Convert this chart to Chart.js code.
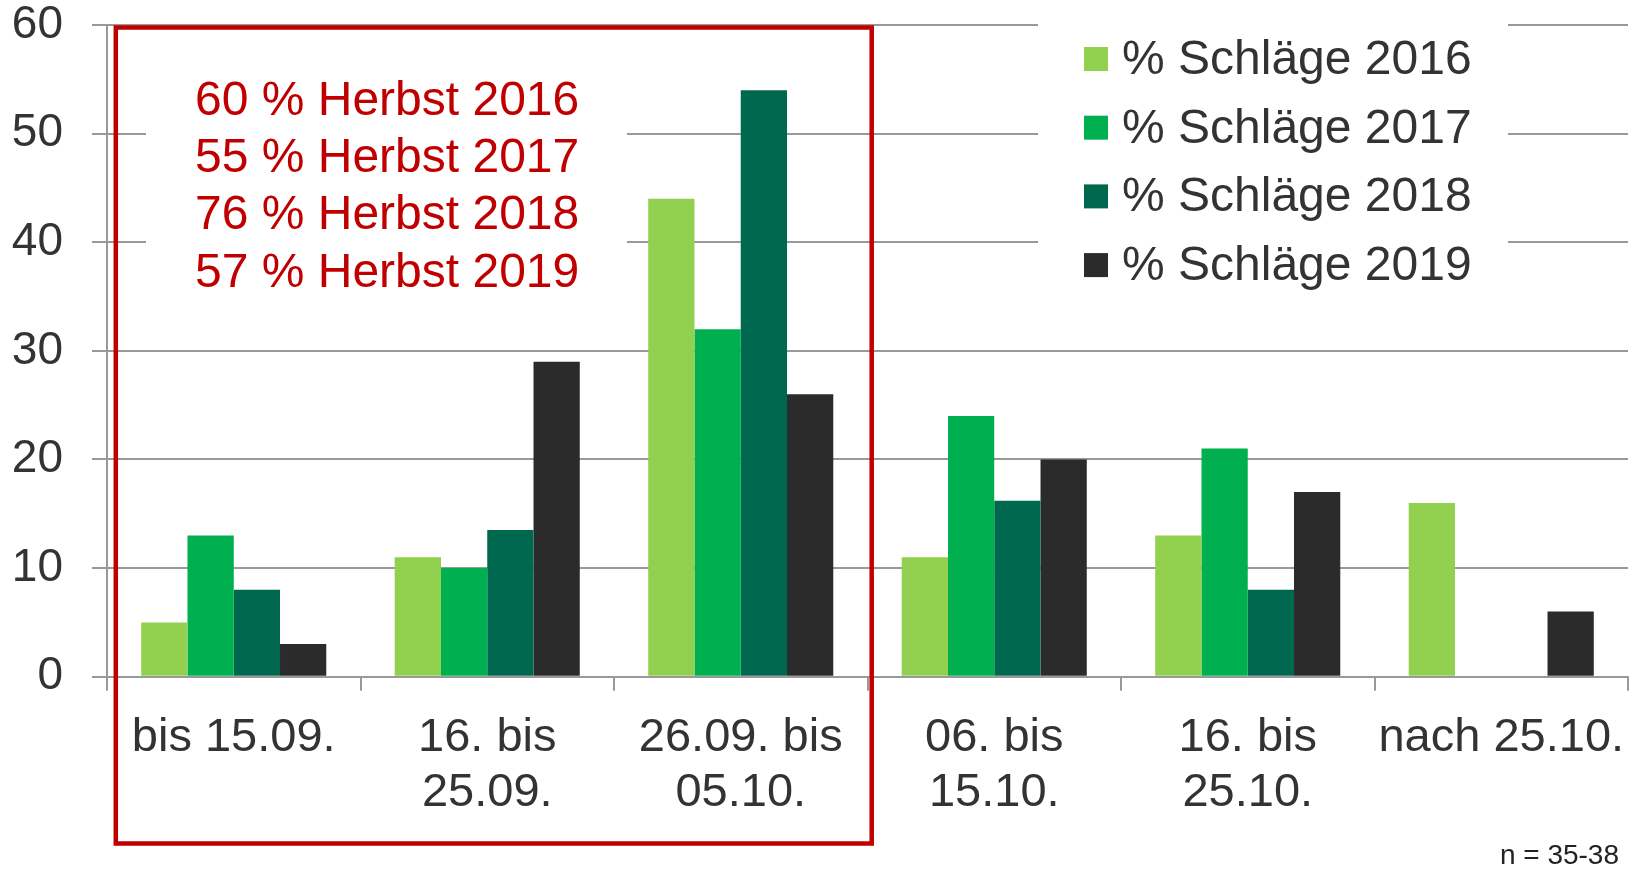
<!DOCTYPE html>
<html><head><meta charset="utf-8">
<script src="https://cdn.jsdelivr.net/npm/chart.js@4.4.1/dist/chart.umd.min.js"></script>
<style>html,body{margin:0;padding:0;background:#fff;overflow:hidden}</style>
</head><body>
<canvas id="c" width="1636" height="869" style="display:block;width:1636px;height:869px"></canvas>
<script>
const categories = [["bis 15.09."], ["16. bis", "25.09."], ["26.09. bis", "05.10."], ["06. bis", "15.10."], ["16. bis", "25.10."], ["nach 25.10."]];
const seriesNames = ["% Schläge 2016", "% Schläge 2017", "% Schläge 2018", "% Schläge 2019"];
const values2016 = [5, 11, 44, 11, 13, 16];
const values2017 = [13, 10, 32, 24, 21, 0];
const values2018 = [8, 13.5, 54, 16.2, 8, 0];
const values2019 = [3, 29, 26, 20, 17, 6];
const yTicks = [0, 10, 20, 30, 40, 50, 60];
const annotationLines = ["60 % Herbst 2016", "55 % Herbst 2017", "76 % Herbst 2018", "57 % Herbst 2019"];
const footnote = "n = 35-38";

const FONT = "'Liberation Sans', Arial, sans-serif";
Chart.defaults.font.family = FONT;
const colors = ['#92D050', '#00B050', '#00684F', '#2B2B2B'];
const allValues = [values2016, values2017, values2018, values2019];

const overlay = {
  id: 'overlay',
  beforeDatasetsDraw(chart) {
    const ctx = chart.ctx;
    ctx.save();
    ctx.fillStyle = '#fff';
    ctx.fillRect(146, 45, 481, 270);
    ctx.fillRect(1038, 10, 470, 290);
    ctx.font = '48px ' + FONT;
    ctx.textAlign = 'left';
    ctx.textBaseline = 'alphabetic';
    ctx.fillStyle = '#C00000';
    annotationLines.forEach((t, i) => ctx.fillText(t, 195, 115 + i * 57.2));
    chart.data.datasets.forEach((ds, i) => {
      const top = 47 + i * 68.7;
      ctx.fillStyle = ds.backgroundColor;
      ctx.fillRect(1084, top, 24, 24);
      ctx.fillStyle = '#333';
      ctx.fillText(ds.label, 1122, top + 27);
    });
    ctx.restore();
  },
  afterDraw(chart) {
    const ctx = chart.ctx;
    ctx.save();
    ctx.strokeStyle = '#C00000';
    ctx.lineWidth = 4.5;
    ctx.strokeRect(115.8, 27.5, 755.9, 816);
    ctx.font = '28px ' + FONT;
    ctx.fillStyle = '#222';
    ctx.textAlign = 'right';
    ctx.textBaseline = 'alphabetic';
    ctx.fillText(footnote, 1619, 864);
    ctx.restore();
  }
};

new Chart(document.getElementById('c'), {
  type: 'bar',
  data: {
    labels: categories,
    datasets: seriesNames.map((n, i) => ({
      label: n, data: allValues[i], backgroundColor: colors[i], borderWidth: 0,
      categoryPercentage: 0.73, barPercentage: 1
    }))
  },
  options: {
    responsive: false,
    animation: false,
    layout: { padding: { top: 25, right: 8, left: 0, bottom: 0 } },
    plugins: { legend: { display: false }, tooltip: { enabled: false } },
    scales: {
      x: {
        grid: { drawOnChartArea: false, tickLength: 14, color: '#999', lineWidth: 2, offset: true },
        border: { color: '#999', width: 2 },
        ticks: { font: { size: 47, lineHeight: 1.17 }, color: '#333', padding: 20, maxRotation: 0, autoSkip: false },
        afterFit(s) { s.height = 869 - 676.7; s.paddingLeft = 0; s.paddingRight = 0; }
      },
      y: {
        min: 0, max: 60,
        afterBuildTicks(s) { s.ticks = yTicks.map(v => ({ value: v })); },
        ticks: { font: { size: 46, lineHeight: 1 }, color: '#333', padding: 29 },
        grid: { tickLength: 15, color: '#999', lineWidth: 2 },
        border: { color: '#999', width: 2 },
        afterFit(s) { s.width = 107; s.paddingTop = 0; s.paddingBottom = 0; }
      }
    }
  },
  plugins: [overlay]
});
</script>
</body></html>
